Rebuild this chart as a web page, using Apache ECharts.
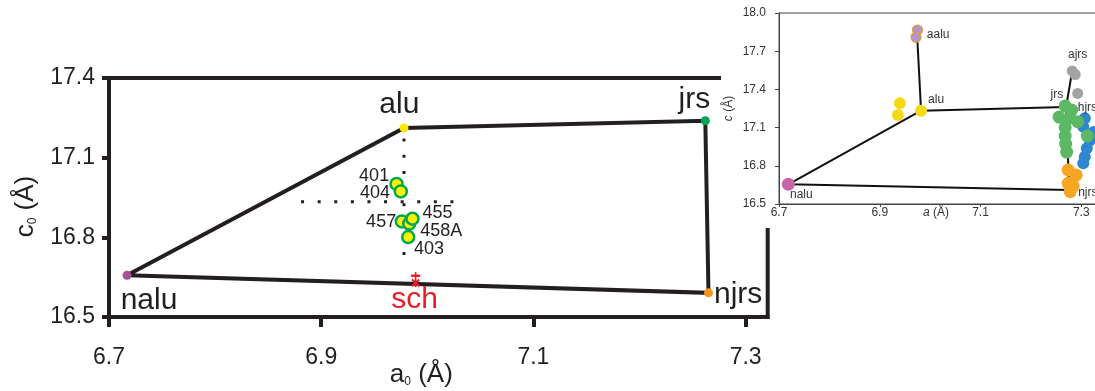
<!DOCTYPE html>
<html><head><meta charset="utf-8">
<script src="https://cdn.jsdelivr.net/npm/echarts@6/dist/echarts.min.js"></script>
<style>html,body{margin:0;padding:0;background:#fff}#c{width:1095px;height:391px}</style>
</head><body><div id="c"></div>
<script>
// ---------- main chart data ----------
const vertexNames = ['nalu', 'alu', 'jrs', 'njrs'];
const vertexA = [6.717, 6.978, 7.262, 7.265];
const vertexC = [16.657, 17.212, 17.239, 16.591];
const sampleNames = ['401', '404', '457', '458A', '455', '403'];
const sampleA = [6.971, 6.975, 6.976, 6.983, 6.986, 6.982];
const sampleC = [17.001, 16.973, 16.860, 16.852, 16.870, 16.801];
const schName = ['sch'];
const schA = [6.989];
const schC = [16.641];
const crossVA = [6.978, 6.978];
const crossVC = [17.172, 16.731];
const crossHA = [6.881, 7.025];
const crossHC = [16.934, 16.934];
const mainXTicks = [6.7, 6.9, 7.1, 7.3];

// ---------- inset data ----------
const insetXTicks = [6.7, 6.9, 7.1, 7.3, 7.5];
const insetNodeNames = ['aalu', 'alu', 'nalu', 'njrs', 'jrs', 'ajrs'];
const insetNodeA = [6.974, 6.982, 6.7185, 7.276, 7.270, 7.282];
const insetNodeC = [17.84, 17.233, 16.655, 16.610, 17.262, 17.545];
const insetNaluA = [6.7185];
const insetNaluC = [16.655];
const insetAluA = [6.982, 6.940, 6.936];
const insetAluC = [17.233, 17.291, 17.199];
const insetAaluA = [6.975, 6.972];
const insetAaluC = [17.866, 17.809];
const insetAjrsA = [7.282, 7.288, 7.293];
const insetAjrsC = [17.545, 17.517, 17.368];
const insetJrsA = [7.268, 7.281, 7.256, 7.277, 7.293, 7.268, 7.268, 7.269, 7.271, 7.312];
const insetJrsC = [17.270, 17.238, 17.183, 17.175, 17.146, 17.101, 17.034, 16.971, 16.908, 17.034];
const insetHjrsA = [7.307, 7.304, 7.325, 7.317, 7.311, 7.307, 7.304];
const insetHjrsC = [17.173, 17.107, 17.065, 16.999, 16.937, 16.871, 16.820];
const insetNjrsA = [7.274, 7.290, 7.274, 7.284, 7.278];
const insetNjrsC = [16.767, 16.728, 16.663, 16.641, 16.597];

// ---------- styles ----------
const INK = '#231f20';
const FONT = '"Liberation Sans", Arial, sans-serif';
const vertexColors = ['#a4509c', '#ffe600', '#00a651', '#f7941d'];
const vertexLabelOffsets = [[22, 25.5], [-4.6, -23], [-11, -20.6], [29.7, 2]];
const sampleLabelAlign = ['right', 'right', 'right', 'left', 'left', 'left'];
const sampleLabelOffsets = [[-7.4, -8.3], [-10.7, 1.9], [-5.7, 0.3], [11, 7.6], [10, -5.4], [5.7, 12]];
const ITXT = '#333333';

const pairs = (A, C) => A.map((a, i) => [a, C[i]]);

const mainPoly = pairs(vertexA, vertexC);
mainPoly.push(mainPoly[0]);

const insetPath1 = [0, 1, 2, 3, 4, 5].map(i => [insetNodeA[i], insetNodeC[i]]);
const insetPath2 = [1, 4].map(i => [insetNodeA[i], insetNodeC[i]]);

function labelled(A, C, idx, lab) {
  return pairs(A, C).map((p, i) => {
    const d = { value: p };
    if (i === idx) d.label = Object.assign({ show: true }, lab);
    return d;
  });
}
const insetLab = (text, align, off) => ({ formatter: text, position: 'inside', align: align, offset: off, color: ITXT, textBorderWidth: 0, fontSize: 12, fontFamily: FONT });

const chart = echarts.init(document.getElementById('c'), null, { renderer: 'canvas' });
chart.setOption({
  animation: false,
  backgroundColor: '#fff',
  graphic: [{ type: 'rect', z: 50, shape: { x: 721, y: 0, width: 374, height: 228 }, style: { fill: '#fff' } }],
  grid: [
    { left: 109, top: 78, width: 658.7, height: 239, show: true, borderWidth: 4, borderColor: INK, z: 0, outerBoundsMode: 'none', containLabel: false },
    { left: 779, top: 13, width: 403, height: 191, show: true, borderWidth: 1, borderColor: '#444', z: 55, outerBoundsMode: 'none', containLabel: false }
  ],
  xAxis: [
    {
      gridIndex: 0, type: 'value', min: 6.7, max: 7.3208,
      axisLine: { lineStyle: { color: INK, width: 4 } },
      axisTick: { customValues: mainXTicks, length: 10, lineStyle: { color: INK, width: 4 } },
      axisLabel: { customValues: mainXTicks, formatter: v => v.toFixed(1), margin: 29, fontSize: 23, color: INK, fontFamily: FONT },
      splitLine: { show: false },
      name: '{a|a}{s|0}{a| (Å)}', nameLocation: 'middle', nameGap: 45, nameMoveOverlap: false,
      nameTextStyle: { padding: [0, 34, 0, 0], rich: { a: { fontSize: 26, color: INK, fontFamily: FONT }, s: { fontSize: 12, color: INK, fontFamily: FONT, verticalAlign: 'bottom', lineHeight: 12 } } }
    },
    {
      gridIndex: 1, type: 'value', min: 6.7, max: 7.5, z: 60,
      axisLine: { lineStyle: { color: '#444', width: 1 } },
      axisTick: { customValues: insetXTicks, length: 3, lineStyle: { color: '#444', width: 1 } },
      axisLabel: { customValues: insetXTicks, formatter: v => v.toFixed(1), margin: 3, fontSize: 12, color: ITXT, fontFamily: FONT },
      splitLine: { show: false },
      name: '{i|a} (Å)', nameLocation: 'middle', nameGap: 3, nameMoveOverlap: false,
      nameTextStyle: { padding: [0, 89, 0, 0], fontSize: 12, color: ITXT, fontFamily: FONT, rich: { i: { fontStyle: 'italic', fontSize: 12, color: ITXT, fontFamily: FONT } } }
    }
  ],
  yAxis: [
    {
      gridIndex: 0, type: 'value', min: 16.5, max: 17.4, interval: 0.3,
      axisLine: { lineStyle: { color: INK, width: 4 } },
      axisTick: { length: 7, lineStyle: { color: INK, width: 4 } },
      axisLabel: { formatter: v => v.toFixed(1), margin: 14, fontSize: 23, color: INK, fontFamily: FONT },
      splitLine: { show: false },
      name: '{a|c}{s|0}{a| (Å)}', nameLocation: 'middle', nameGap: 70, nameMoveOverlap: false,
      nameTextStyle: { padding: [0, 18, 0, 0], rich: { a: { fontSize: 26, color: INK, fontFamily: FONT }, s: { fontSize: 12, color: INK, fontFamily: FONT, verticalAlign: 'bottom', lineHeight: 12 } } }
    },
    {
      gridIndex: 1, type: 'value', min: 16.5, max: 18.0, interval: 0.3, z: 60,
      axisLine: { lineStyle: { color: '#444', width: 1 } },
      axisTick: { length: 4, lineStyle: { color: '#444', width: 1 } },
      axisLabel: { formatter: v => v.toFixed(1), margin: 13, fontSize: 12, color: ITXT, fontFamily: FONT },
      splitLine: { show: false },
      name: '{i|c} (Å)', nameLocation: 'middle', nameGap: 44, nameMoveOverlap: false,
      nameTextStyle: { fontSize: 12, color: ITXT, fontFamily: FONT, rich: { i: { fontStyle: 'italic', fontSize: 12, color: ITXT, fontFamily: FONT } } }
    }
  ],
  series: [
    // ---- main ----
    { type: 'line', xAxisIndex: 0, yAxisIndex: 0, data: crossVA.map((a, i) => [a, crossVC[i]]), symbol: 'none', lineStyle: { color: INK, width: 3, type: [3, 13.2] }, z: 2 },
    { type: 'line', xAxisIndex: 0, yAxisIndex: 0, data: crossHA.map((a, i) => [a, crossHC[i]]), symbol: 'none', lineStyle: { color: INK, width: 3, type: [3, 13.6] }, z: 2 },
    { type: 'line', xAxisIndex: 0, yAxisIndex: 0, data: mainPoly, symbol: 'none', lineStyle: { color: INK, width: 4, join: 'miter' }, z: 3 },
    {
      type: 'scatter', xAxisIndex: 0, yAxisIndex: 0, z: 4, symbolSize: 9,
      data: vertexA.map((a, i) => ({
        value: [a, vertexC[i]], name: vertexNames[i],
        itemStyle: { color: vertexColors[i], opacity: 1 },
        label: { show: true, formatter: vertexNames[i], position: 'inside', offset: vertexLabelOffsets[i], color: INK, textBorderWidth: 0, fontSize: 30, fontFamily: FONT }
      }))
    },
    {
      type: 'scatter', xAxisIndex: 0, yAxisIndex: 0, z: 5, symbolSize: 12,
      itemStyle: { color: '#fff200', borderColor: '#00a651', borderWidth: 2.5, opacity: 1 },
      data: sampleA.map((a, i) => ({
        value: [a, sampleC[i]], name: sampleNames[i],
        label: { show: true, formatter: sampleNames[i], position: 'inside', align: sampleLabelAlign[i], offset: sampleLabelOffsets[i], color: INK, textBorderWidth: 0, fontSize: 18, fontFamily: FONT }
      }))
    },
    {
      type: 'scatter', xAxisIndex: 0, yAxisIndex: 0, z: 6,
      symbol: 'path://M5,0L5,16M0,4L10,4M1,8L9,15M9,8L1,15', symbolSize: [9, 15],
      itemStyle: { color: 'rgba(0,0,0,0)', borderColor: '#ed1c24', borderWidth: 2, opacity: 1 },
      data: schA.map((a, i) => ({
        value: [a, schC[i]], name: schName[i],
        label: { show: true, formatter: schName[i], position: 'inside', offset: [-1, 19.7], color: '#ed1c24', textBorderWidth: 0, fontSize: 30, fontFamily: FONT }
      }))
    },
    // ---- inset ----
    { type: 'line', xAxisIndex: 1, yAxisIndex: 1, data: insetPath1, symbol: 'none', lineStyle: { color: '#111', width: 2 }, z: 62 },
    { type: 'line', xAxisIndex: 1, yAxisIndex: 1, data: insetPath2, symbol: 'none', lineStyle: { color: '#111', width: 2 }, z: 62 },
    { type: 'scatter', xAxisIndex: 1, yAxisIndex: 1, z: 63, symbolSize: 12, itemStyle: { color: '#2f87d1', opacity: 1 },
      data: labelled(insetHjrsA, insetHjrsC, 0, insetLab('hjrs', 'left', [-7, -10.6])) },
    { type: 'scatter', xAxisIndex: 1, yAxisIndex: 1, z: 64, symbolSize: 13, itemStyle: { color: '#5bb863', opacity: 1 },
      data: labelled(insetJrsA, insetJrsC, 0, insetLab('jrs', 'right', [-2, -11])) },
    { type: 'scatter', xAxisIndex: 1, yAxisIndex: 1, z: 65, symbolSize: 13, itemStyle: { color: '#f6a623', opacity: 1 },
      data: labelled(insetNjrsA, insetNjrsC, 4, insetLab('njrs', 'left', [8, 1])) },
    { type: 'scatter', xAxisIndex: 1, yAxisIndex: 1, z: 65, symbolSize: 11, itemStyle: { color: '#a3a3a3', opacity: 1 },
      data: labelled(insetAjrsA, insetAjrsC, 0, insetLab('ajrs', 'center', [5.5, -16])) },
    { type: 'scatter', xAxisIndex: 1, yAxisIndex: 1, z: 65, symbolSize: 12, itemStyle: { color: '#f5d816', opacity: 1 },
      data: labelled(insetAluA, insetAluC, 0, insetLab('alu', 'left', [7, -11])) },
    { type: 'scatter', xAxisIndex: 1, yAxisIndex: 1, z: 65, symbolSize: 10, itemStyle: { color: '#b396c8', borderColor: '#e39b3a', borderWidth: 1.2, opacity: 1 },
      data: labelled(insetAaluA, insetAaluC, 0, insetLab('aalu', 'left', [9.3, 5])) },
    { type: 'scatter', xAxisIndex: 1, yAxisIndex: 1, z: 65, symbolSize: 13, itemStyle: { color: '#c864a8', opacity: 1 },
      data: labelled(insetNaluA, insetNaluC, 0, insetLab('nalu', 'left', [1.7, 10.7])) }
  ]
});
</script>
</body></html>
